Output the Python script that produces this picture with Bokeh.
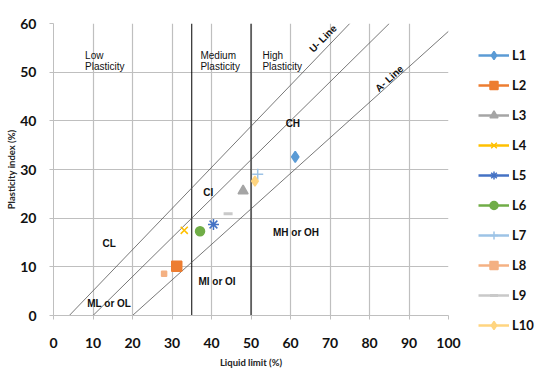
from bokeh.plotting import figure
from bokeh.models import (Range1d, FixedTicker, Legend, LegendItem, Label)
from bokeh.embed import file_html
from bokeh.resources import INLINE

# ---- data ----
series = ["L1", "L2", "L3", "L4", "L5", "L6", "L7", "L8", "L9", "L10"]
liquid_limit = [61.2, 31.2, 48.0, 33.1, 40.5, 37.1, 51.7, 28.0, 44.2, 51.0]
plasticity_index = [32.6, 10.1, 25.6, 17.5, 18.7, 17.3, 29.0, 8.6, 20.9, 27.6]
colors = ["#5B9BD5", "#ED7D31", "#A5A5A5", "#FFC000", "#4472C4",
          "#70AD47", "#9DC3E6", "#F4B183", "#C9C9C9", "#FFD580"]
markers = ["diamond", "square", "triangle", "x", "asterisk",
           "circle", "cross", "square", "dash", "diamond"]
marker_sizes = [11, 10, 10, 10, 11, 9, 11, 5, 9, 10]

# boundary lines (liquid limit, plasticity index)
u_line_x, u_line_y = [4, 75], [0, 60]
mid_line_x, mid_line_y = [10, 85], [0, 60]
a_line_x, a_line_y = [20, 100], [0, 58.4]
plasticity_bounds = [35, 50]

x_ticks = list(range(0, 101, 10))
y_ticks = list(range(0, 61, 10))

FONT = "Lato"
AFONT = "Liberation Sans"

p = figure(frame_width=395, frame_height=292, output_backend="svg",
           toolbar_location=None,
           x_range=Range1d(0, 100), y_range=Range1d(0, 60),
           min_border_left=53, min_border_top=23, min_border_bottom=50,
           min_border_right=88)
p.outline_line_color = None

for ax, ticks in ((p.xaxis, x_ticks), (p.yaxis, y_ticks)):
    ax.ticker = FixedTicker(ticks=ticks)
    ax.axis_line_color = "#BFBFBF"
    ax.major_tick_line_color = "#BFBFBF"
    ax.major_tick_out = 4
    ax.major_tick_in = 0
    ax.minor_tick_line_color = None
    ax.major_label_text_font = FONT
    ax.major_label_text_font_style = "bold"
    ax.major_label_text_font_size = "14px"
    ax.major_label_text_color = "#111111"
    ax.axis_label_text_font = FONT
    ax.axis_label_text_font_style = "bold"
    ax.axis_label_text_color = "#222222"

p.xaxis.axis_label = "Liquid limit (%)"
p.xaxis.axis_label_text_font_size = "9.5px"
p.xaxis.major_label_standoff = 18
p.xaxis.axis_label_standoff = 6
p.yaxis.axis_label = "Plasticity index (%)"
p.yaxis.axis_label_text_font_size = "9.5px"
p.yaxis.major_label_standoff = 13
p.yaxis.axis_label_standoff = 0

for g in (p.xgrid, p.ygrid):
    g.grid_line_color = "#BFBFBF"
    g.grid_line_width = 1.2
p.xgrid.ticker = FixedTicker(ticks=x_ticks)
p.ygrid.ticker = FixedTicker(ticks=y_ticks)

# plasticity range boundaries
for xb in plasticity_bounds:
    p.line([xb, xb], [0, 60], line_color="black", line_width=1)

# classification lines
for lx, ly in ((u_line_x, u_line_y), (mid_line_x, mid_line_y), (a_line_x, a_line_y)):
    p.line(lx, ly, line_color="#555555", line_width=0.8)

# annotations
def lab(x, y, t, bold=False, angle=0, align="left"):
    p.add_layout(Label(x=x, y=y, text=t, text_font=AFONT, text_font_size="10px",
                       text_font_style="bold" if bold else "normal",
                       text_color="#111111", text_align=align,
                       text_baseline="middle", angle=angle, angle_units="deg"))

lab(8.0, 53.5, "Low")
lab(8.0, 51.2, "Plasticity")
lab(37.2, 53.5, "Medium")
lab(37.2, 51.2, "Plasticity")
lab(52.9, 53.5, "High")
lab(52.9, 51.2, "Plasticity")
lab(68.2, 56.9, "U- Line", bold=True, angle=45, align="center")
lab(85.0, 48.7, "A- Line", bold=True, angle=42, align="center")
lab(60.6, 39.5, "CH", bold=True, align="center")
lab(39.2, 25.2, "CI", bold=True, align="center")
lab(14.1, 14.8, "CL", bold=True, align="center")
lab(61.4, 17.1, "MH or OH", bold=True, align="center")
lab(41.4, 7.0, "MI or OI", bold=True, align="center")
lab(14.1, 2.4, "ML or OL", bold=True, align="center")

# points + legend
items = []
for name, xv, yv, c, m, s in zip(series, liquid_limit, plasticity_index,
                                  colors, markers, marker_sizes):
    lr = p.line([xv], [yv], line_color=c, line_width=2.5)
    lw = 3 if m == "dash" else 1.5
    sr = p.scatter([xv], [yv], marker=m, size=s, fill_color=c, line_color=c,
                   line_width=lw)
    items.append(LegendItem(label=name, renderers=[lr, sr]))

legend = Legend(items=items, location=(30, -20), margin=0, padding=0,
                spacing=10, glyph_width=31, glyph_height=20, label_height=20,
                label_standoff=3, label_text_font=FONT,
                label_text_font_style="bold", label_text_font_size="13px",
                label_text_color="#111111", border_line_color=None,
                background_fill_alpha=0)
p.add_layout(legend, "right")

open("out.html", "w").write(file_html(p, INLINE))
